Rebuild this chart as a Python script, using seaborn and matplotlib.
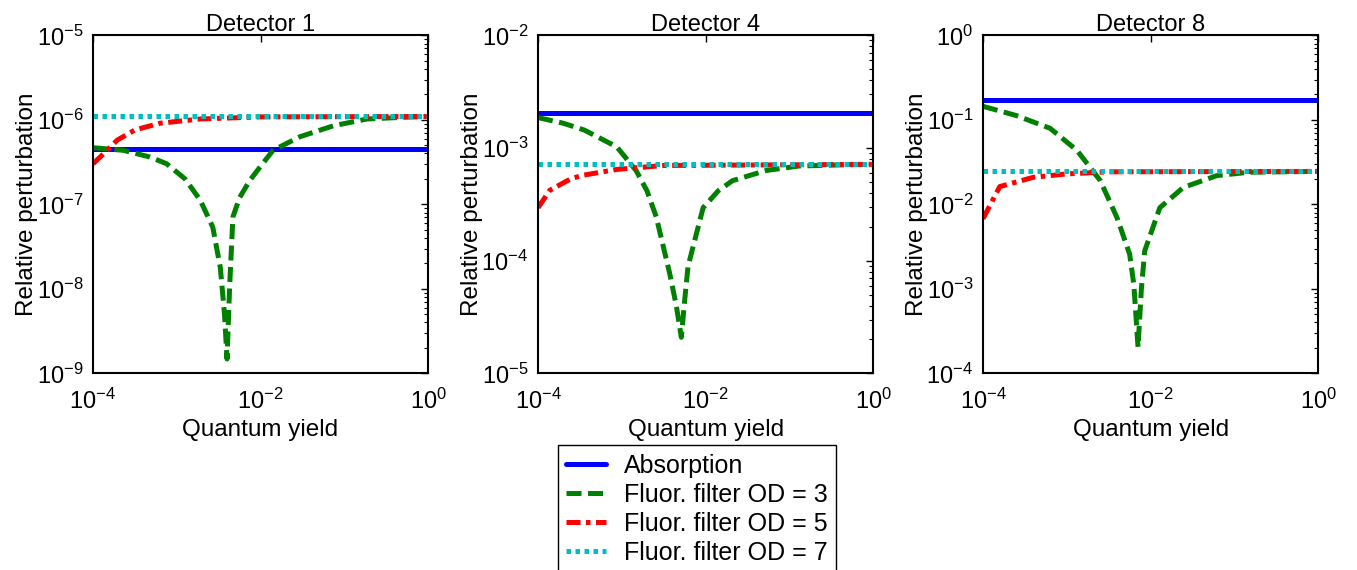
import numpy as np
import pandas as pd
import matplotlib
matplotlib.use("Agg")
import matplotlib.pyplot as plt
import seaborn as sns
from matplotlib.ticker import LogLocator, FuncFormatter, NullFormatter

# Values, stored as log10 of x (quantum yield) and y (relative perturbation)
QY_RANGE = [-4.0, 0.0]

det1_absorption = -6.34
det1_od7 = -5.96
det1_od3_x = [-4.0, -3.64, -3.32, -3.12, -2.9, -2.72, -2.57, -2.48, -2.43, -2.40, -2.37, -2.33, -2.25,
              -2.13, -2.0, -1.85, -1.53, -1.13, -0.73, -0.3, 0.0]
det1_od3_y = [-6.33, -6.36, -6.44, -6.52, -6.70, -6.95, -7.27, -7.75, -8.30, -8.83, -8.00, -7.15, -6.92,
              -6.72, -6.55, -6.36, -6.20, -6.07, -5.99, -5.97, -5.96]
det1_od5_x = [-4.0, -3.85, -3.71, -3.5, -3.2, -2.72, -2.0, 0.0]
det1_od5_y = [-6.52, -6.38, -6.24, -6.12, -6.04, -5.99, -5.965, -5.96]

det4_absorption = -2.69
det4_od7 = -3.145
det4_od3_x = [-4.0, -3.7, -3.45, -3.06, -2.83, -2.7, -2.59, -2.43, -2.35, -2.29, -2.25, -2.21, -2.03,
              -1.85, -1.68, -1.28, -0.89, -0.4, 0.0]
det4_od3_y = [-2.73, -2.78, -2.84, -2.99, -3.20, -3.38, -3.61, -4.11, -4.40, -4.68, -4.35, -4.05, -3.53,
              -3.38, -3.29, -3.20, -3.16, -3.15, -3.145]
det4_od5_x = [-4.0, -3.86, -3.6, -3.45, -3.06, -2.5, 0.0]
det4_od5_y = [-3.53, -3.375, -3.27, -3.24, -3.19, -3.155, -3.145]

det8_absorption = -0.77
det8_od7 = -1.61
det8_od3_x = [-4.0, -3.6, -3.2, -2.88, -2.6, -2.4, -2.25, -2.2, -2.15, -2.11, -2.07, -1.89, -1.61,
              -1.21, -0.82, 0.0]
det8_od3_y = [-0.84, -0.95, -1.10, -1.36, -1.72, -2.16, -2.59, -2.95, -3.69, -3.00, -2.55, -2.04, -1.80,
              -1.66, -1.62, -1.61]
det8_od5_x = [-4.0, -3.8, -3.4, -3.0, -2.5, 0.0]
det8_od5_y = [-2.17, -1.79, -1.68, -1.64, -1.615, -1.61]

titles = ["Detector 1", "Detector 4", "Detector 8"]
y_limits = [(-9, -5), (-5, -2), (-4, 0)]
labels = ["Absorption", "Fluor. filter OD = 3", "Fluor. filter OD = 5", "Fluor. filter OD = 7"]

panels = [
    (det1_absorption, det1_od3_x, det1_od3_y, det1_od5_x, det1_od5_y, det1_od7),
    (det4_absorption, det4_od3_x, det4_od3_y, det4_od5_x, det4_od5_y, det4_od7),
    (det8_absorption, det8_od3_x, det8_od3_y, det8_od5_x, det8_od5_y, det8_od7),
]

sns.set_style("white")
plt.rcParams['font.family'] = ['Liberation Sans', 'DejaVu Sans']
plt.rcParams['mathtext.fontset'] = 'custom'
plt.rcParams['mathtext.rm'] = 'Liberation Sans'
plt.rcParams['mathtext.it'] = 'Liberation Sans:italic'
plt.rcParams['mathtext.bf'] = 'Liberation Sans:bold'
for key in ['text.color', 'axes.labelcolor', 'xtick.color', 'ytick.color']:
    plt.rcParams[key] = 'black'

LW = 3.6
styles = [
    dict(color=(0, 0, 1), linestyle='-', linewidth=LW),
    dict(color=(0, 0.5, 0), linestyle=(0, (3.0, 1.3)), linewidth=LW),
    dict(color=(1, 0, 0), linestyle=(0, (2.8, 1.1, 0.9, 1.1)), linewidth=LW),
    dict(color=(0, 0.75, 0.75), linestyle=(0, (0.9, 0.9)), linewidth=LW),
]


def log_label(v, pos):
    return r"$10^{%d}$" % int(round(np.log10(v)))


fig = plt.figure(figsize=(13.57, 5.70), dpi=100)
lefts = [0.0685, 0.3965, 0.7244]
axes = []
for i, left in enumerate(lefts):
    ax = fig.add_axes([left, 0.345, 0.247, 0.593])
    absorption, od3_x, od3_y, od5_x, od5_y, od7 = panels[i]

    series = [
        (QY_RANGE, [absorption, absorption]),
        (od3_x, od3_y),
        (od5_x, od5_y),
        (QY_RANGE, [od7, od7]),
    ]
    for (xs, ys), lab, st in zip(series, labels, styles):
        df = pd.DataFrame({"qy": 10.0 ** np.array(xs), "pert": 10.0 ** np.array(ys)})
        sns.lineplot(data=df, x="qy", y="pert", ax=ax, label=lab, estimator=None,
                     sort=False, **st)

    ax.set_xscale("log")
    ax.set_yscale("log")
    ax.set_xlim(1e-4, 1)
    ax.set_ylim(10.0 ** y_limits[i][0], 10.0 ** y_limits[i][1])
    ax.xaxis.set_major_locator(LogLocator(base=100.0, numticks=5))
    ax.xaxis.set_minor_formatter(NullFormatter())
    ax.yaxis.set_major_locator(LogLocator(base=10.0, numticks=10))
    ax.yaxis.set_minor_locator(LogLocator(base=10.0, subs=np.arange(2, 10), numticks=20))
    ax.yaxis.set_minor_formatter(NullFormatter())
    ax.xaxis.set_major_formatter(FuncFormatter(log_label))
    ax.yaxis.set_major_formatter(FuncFormatter(log_label))
    ax.tick_params(which='both', direction='in', top=True, right=True, labelsize=17, pad=7)
    ax.tick_params(axis='x', pad=11)
    ax.tick_params(which='major', length=5, width=1)
    ax.tick_params(which='minor', length=3, width=0.8)
    ax.tick_params(axis='x', which='minor', length=0)
    for sp in ax.spines.values():
        sp.set_linewidth(1.5)
        sp.set_color('black')
    ax.set_title(titles[i], fontsize=17, pad=3)
    ax.set_xlabel("Quantum yield", fontsize=17.5, labelpad=4)
    ax.set_ylabel("Relative perturbation", fontsize=17.5, labelpad=-1)
    ax.get_legend().remove()
    axes.append(ax)

handles, labs = axes[0].get_legend_handles_labels()
leg = fig.legend(handles, labs, loc='upper left', bbox_to_anchor=(0.411, 0.219),
                 fontsize=18, frameon=True, fancybox=False, edgecolor='black',
                 framealpha=1, handlelength=1.6, labelspacing=0.2, borderpad=0.35,
                 handletextpad=0.7, borderaxespad=0)
leg.get_frame().set_linewidth(1.0)

fig.savefig("out.png", dpi=100)
